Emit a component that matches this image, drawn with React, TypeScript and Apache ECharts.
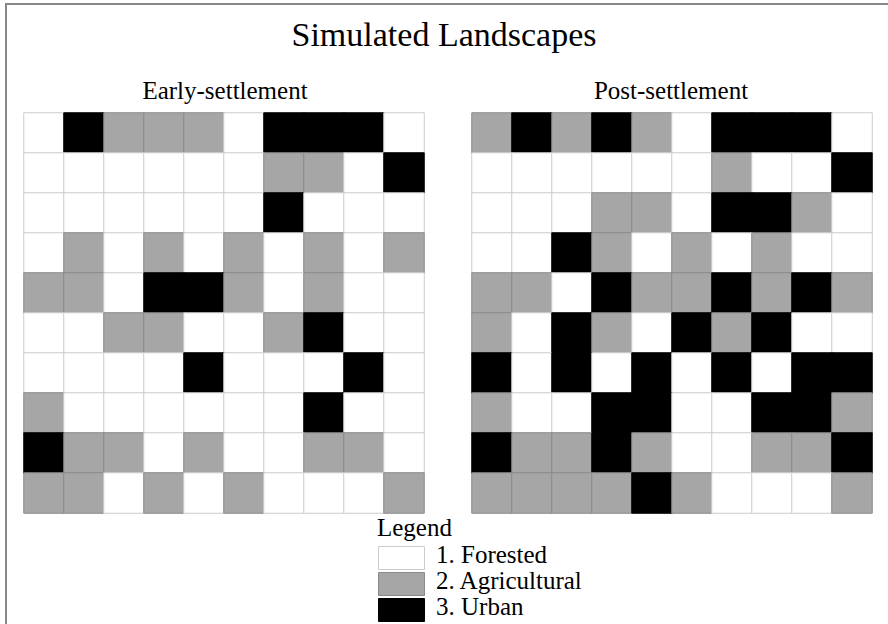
import React, { useEffect, useRef } from "react";
import * as echarts from "echarts";

const chartTitle = "Simulated Landscapes";
const panelTitles = ["Early-settlement", "Post-settlement"];
const legendTitle = "Legend";
const landCover = ["1. Forested", "2. Agricultural", "3. Urban"];
const coverColors = ["#ffffff", "#a6a6a6", "#000000"];
const coverBorders = ["#cccccc", "#8a8a8a", "#000000"];
const cols = ["1", "2", "3", "4", "5", "6", "7", "8", "9", "10"];
const rows = ["1", "2", "3", "4", "5", "6", "7", "8", "9", "10"];

// 1 = Forested, 2 = Agricultural, 3 = Urban (rows top to bottom)
const earlyGrid = [
  [1, 3, 2, 2, 2, 1, 3, 3, 3, 1],
  [1, 1, 1, 1, 1, 1, 2, 2, 1, 3],
  [1, 1, 1, 1, 1, 1, 3, 1, 1, 1],
  [1, 2, 1, 2, 1, 2, 1, 2, 1, 2],
  [2, 2, 1, 3, 3, 2, 1, 2, 1, 1],
  [1, 1, 2, 2, 1, 1, 2, 3, 1, 1],
  [1, 1, 1, 1, 3, 1, 1, 1, 3, 1],
  [2, 1, 1, 1, 1, 1, 1, 3, 1, 1],
  [3, 2, 2, 1, 2, 1, 1, 2, 2, 1],
  [2, 2, 1, 2, 1, 2, 1, 1, 1, 2],
];

const postGrid = [
  [2, 3, 2, 3, 2, 1, 3, 3, 3, 1],
  [1, 1, 1, 1, 1, 1, 2, 1, 1, 3],
  [1, 1, 1, 2, 2, 1, 3, 3, 2, 1],
  [1, 1, 3, 2, 1, 2, 1, 2, 1, 1],
  [2, 2, 1, 3, 2, 2, 3, 2, 3, 2],
  [2, 1, 3, 2, 1, 3, 2, 3, 1, 1],
  [3, 1, 3, 1, 3, 1, 3, 1, 3, 3],
  [2, 1, 1, 3, 3, 1, 1, 3, 3, 2],
  [3, 2, 2, 3, 2, 1, 1, 2, 2, 3],
  [2, 2, 2, 2, 3, 2, 1, 1, 1, 2],
];

function toData(grid: number[][]) {
  const out: any[] = [];
  grid.forEach((row, r) =>
    row.forEach((v, c) => {
      out.push({
        value: [c, r, v],
        itemStyle: { borderColor: coverBorders[v - 1] },
      });
    })
  );
  return out;
}

const FONT = "'Liberation Serif', 'DejaVu Serif', serif";

export default function App() {
  const ref = useRef<HTMLDivElement>(null);
  useEffect(() => {
    if (!ref.current) return;
    const chart = echarts.init(ref.current, undefined, { renderer: "svg" });
    const grids = [
      { left: 24, top: 113, width: 400, height: 400 },
      { left: 472, top: 113, width: 400, height: 400 },
    ];
    const legendGraphics: any[] = [
      {
        type: "text",
        left: 377,
        top: 515,
        style: { text: legendTitle, font: `25px ${FONT}`, fill: "#000" },
      },
    ];
    landCover.forEach((label, i) => {
      legendGraphics.push({
        type: "rect",
        shape: { x: 378.5, y: 546.5 + i * 26, width: 46, height: 23 },
        style: { fill: coverColors[i], stroke: coverBorders[i], lineWidth: 1 },
      });
      legendGraphics.push({
        type: "text",
        left: 436,
        top: 542 + i * 26,
        style: { text: label, font: `25px ${FONT}`, fill: "#000" },
      });
    });
    chart.setOption({
      animation: false,
      backgroundColor: "#ffffff",
      title: [
        {
          text: chartTitle,
          left: "center",
          top: 12,
          textStyle: { fontFamily: FONT, fontSize: 34, fontWeight: "normal", color: "#000" },
        },
        {
          text: panelTitles[0],
          left: 220,
          top: 73,
          textAlign: "center",
          textStyle: { fontFamily: FONT, fontSize: 25, fontWeight: "normal", color: "#000" },
        },
        {
          text: panelTitles[1],
          left: 666,
          top: 73,
          textAlign: "center",
          textStyle: { fontFamily: FONT, fontSize: 25, fontWeight: "normal", color: "#000" },
        },
      ],
      grid: grids,
      xAxis: [0, 1].map((g) => ({
        type: "category",
        gridIndex: g,
        data: cols,
        show: false,
      })),
      yAxis: [0, 1].map((g) => ({
        type: "category",
        gridIndex: g,
        data: rows,
        inverse: true,
        show: false,
      })),
      visualMap: {
        type: "piecewise",
        show: false,
        dimension: 2,
        seriesIndex: [0, 1],
        pieces: coverColors.map((c, i) => ({ value: i + 1, color: c })),
      },
      series: [
        {
          type: "heatmap",
          xAxisIndex: 0,
          yAxisIndex: 0,
          data: toData(earlyGrid),
          itemStyle: { borderWidth: 1, borderColor: "#cccccc" },
          emphasis: { disabled: true },
        },
        {
          type: "heatmap",
          xAxisIndex: 1,
          yAxisIndex: 1,
          data: toData(postGrid),
          itemStyle: { borderWidth: 1, borderColor: "#cccccc" },
          emphasis: { disabled: true },
        },
      ],
      graphic: [
        {
          type: "line",
          shape: { x1: 5, y1: 4, x2: 888, y2: 4 },
          style: { stroke: "#888888", lineWidth: 2 },
        },
        {
          type: "line",
          shape: { x1: 6, y1: 3, x2: 6, y2: 624 },
          style: { stroke: "#888888", lineWidth: 2 },
        },
        ...legendGraphics,
      ],
    });
    return () => chart.dispose();
  }, []);
  return (
    <div
      ref={ref}
      style={{ position: "fixed", left: 0, top: 0, width: 888, height: 624 }}
    />
  );
}
